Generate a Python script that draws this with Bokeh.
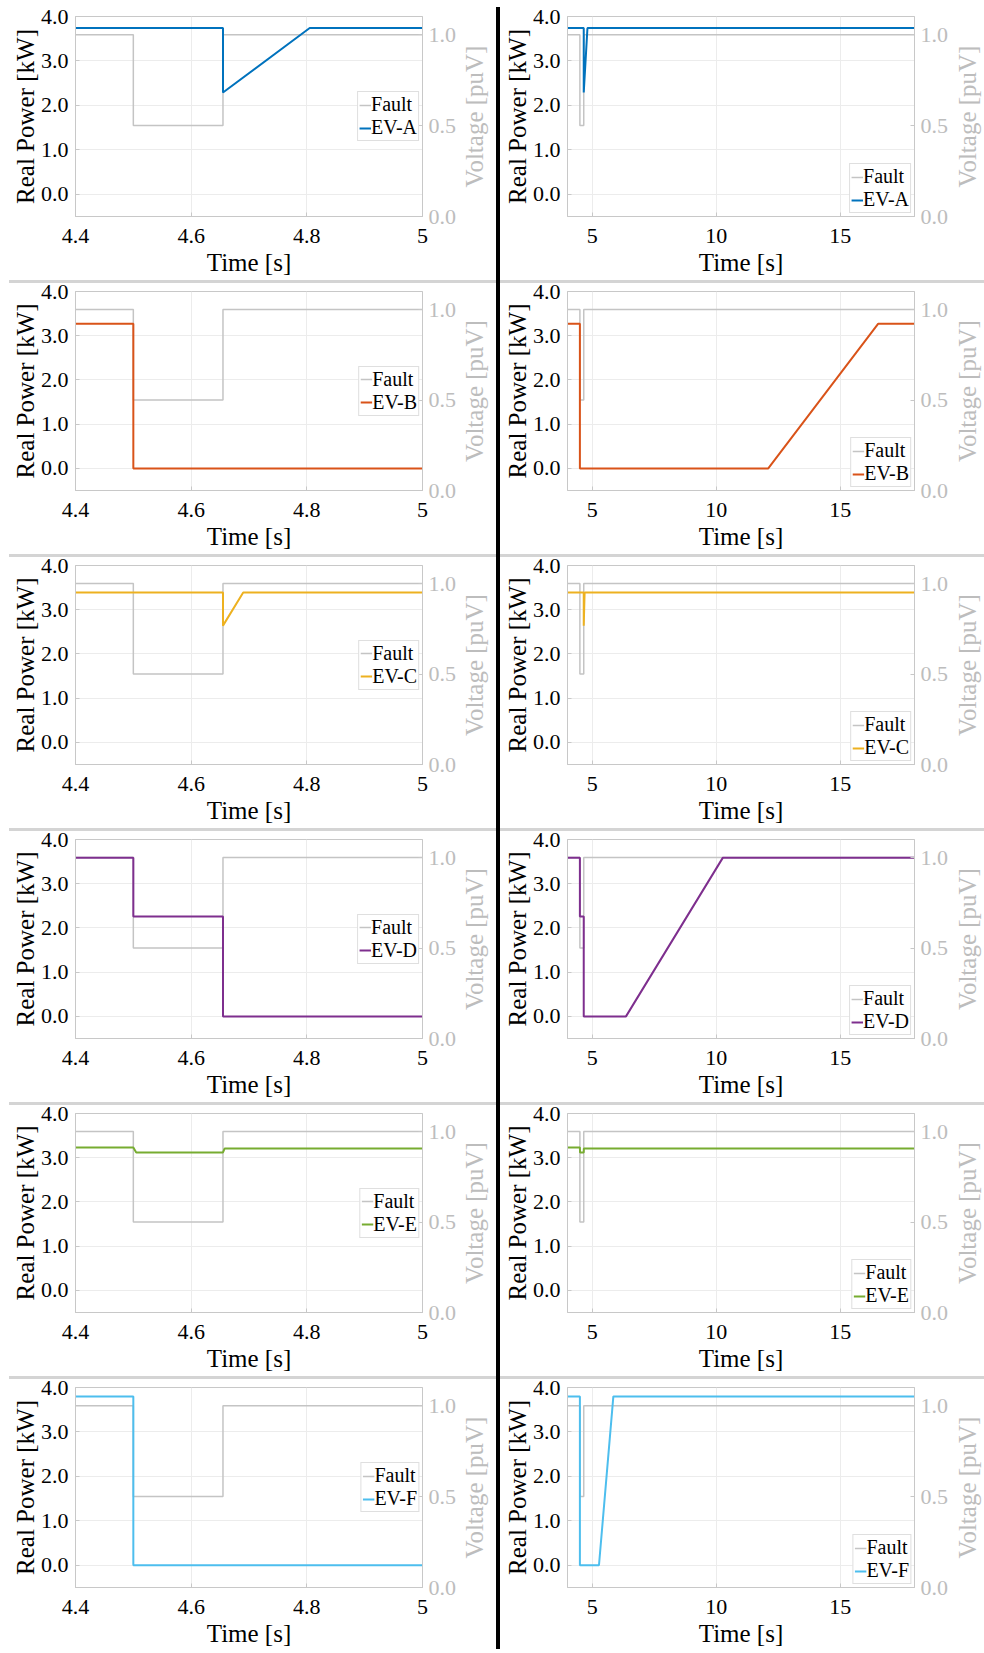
import math
from bokeh.plotting import figure
from bokeh.models import (Range1d, LinearAxis, FixedTicker, CustomJSTickFormatter,
                          Legend, LegendItem, Div)
from bokeh.layouts import row, column
from bokeh.embed import file_html
from bokeh.resources import INLINE

# ---------------- data ----------------
FAULT_T = [4.0, 4.5, 4.5, 4.655, 4.655, 18.0]
FAULT_V = [1.0, 1.0, 0.5, 0.5, 1.0, 1.0]

EV_NAMES = ["EV-A", "EV-B", "EV-C", "EV-D", "EV-E", "EV-F"]
EV_COLORS = ["#0072BD", "#D95319", "#EDB120", "#7E2F8E", "#77AC30", "#4DBEEE"]

EV_A_T = [4.0, 4.655, 4.655, 4.805, 18.0]
EV_A_P = [3.74, 3.74, 2.29, 3.74, 3.74]
EV_B_T = [4.0, 4.5, 4.5, 12.1, 16.53, 18.0]
EV_B_P = [3.27, 3.27, 0.0, 0.0, 3.27, 3.27]
EV_C_T = [4.0, 4.655, 4.655, 4.69, 18.0]
EV_C_P = [3.39, 3.39, 2.64, 3.39, 3.39]
EV_D_T = [4.0, 4.5, 4.5, 4.655, 4.655, 6.36, 10.27, 18.0]
EV_D_P = [3.59, 3.59, 2.26, 2.26, 0.0, 0.0, 3.59, 3.59]
EV_E_T = [4.0, 4.5, 4.505, 4.655, 4.658, 18.0]
EV_E_P = [3.23, 3.23, 3.12, 3.12, 3.21, 3.21]
EV_F_T = [4.0, 4.5, 4.5, 5.27, 5.85, 18.0]
EV_F_P = [3.80, 3.80, 0.0, 0.0, 3.80, 3.80]

EV_T = [EV_A_T, EV_B_T, EV_C_T, EV_D_T, EV_E_T, EV_F_T]
EV_P = [EV_A_P, EV_B_P, EV_C_P, EV_D_P, EV_E_P, EV_F_P]

ZOOM_X_RANGE = (4.4, 5.0)
FULL_X_RANGE = (4.0, 18.0)
ZOOM_X_TICKS = [4.4, 4.6, 4.8, 5.0]
ZOOM_X_LABELS = ["4.4", "4.6", "4.8", "5"]
FULL_X_TICKS = [5, 10, 15]
FULL_X_LABELS = ["5", "10", "15"]
P_RANGE = (-0.5, 4.0)
P_TICKS = [0, 1, 2, 3, 4]
P_LABELS = ["0.0", "1.0", "2.0", "3.0", "4.0"]
V_RANGE = (0.0, 1.1)
V_TICKS = [0.0, 0.5, 1.0]
V_LABELS = ["0.0", "0.5", "1.0"]

# ---------------- style ----------------
FONT = "Liberation Serif"
FAULT_COLOR = "#c4c4c4"
V_TEXT = "#bdbdbd"
BOX = "#c8c8c8"
GRID = "#ececec"
SEP = "#d4d4d4"
ROW_H = [278, 274, 274, 274, 274, 275]
TOP_B = [16, 13, 13, 13, 13, 13]
FRAME_W = 349
FRAME_H = 200
# widths: [main-left, vlabel-left, bar, main-right, vlabel-right] = 984
MAIN_L_W, LAB_L_W = 459, 37
BAR_W = 4
MAIN_R_W, LAB_R_W = 451, 33


def fmt(tick_vals, tick_labels):
    return CustomJSTickFormatter(
        args=dict(tv=tick_vals, tl=tick_labels),
        code="for (let i = 0; i < tv.length; i++) { if (Math.abs(tv[i] - tick) < 1e-9) return tl[i]; } return '';")


def style_axis(ax, color, label_color):
    ax.axis_label_text_font = FONT
    ax.axis_label_text_font_size = "25px"
    ax.axis_label_text_font_style = "normal"
    ax.axis_label_text_color = label_color
    ax.major_label_text_font = FONT
    ax.major_label_text_font_size = "22px"
    ax.major_label_text_color = color
    ax.axis_line_color = BOX
    ax.major_tick_line_color = BOX
    ax.major_tick_in = 4
    ax.major_tick_out = 0
    ax.minor_tick_line_color = None


def make_panel(t, pw, name, color, zoom, h, top):
    xr = ZOOM_X_RANGE if zoom else FULL_X_RANGE
    xt = ZOOM_X_TICKS if zoom else FULL_X_TICKS
    xl = ZOOM_X_LABELS if zoom else FULL_X_LABELS
    bl = 75 if zoom else 67
    w = MAIN_L_W if zoom else MAIN_R_W
    p = figure(width=w, height=h,
               x_range=Range1d(*xr), y_range=Range1d(*P_RANGE),
               output_backend="svg", toolbar_location=None,
               min_border_left=bl, min_border_right=w - bl - FRAME_W,
               min_border_top=top, min_border_bottom=h - top - FRAME_H)
    p.extra_y_ranges = {"v": Range1d(*V_RANGE)}
    p.background_fill_color = "white"
    p.border_fill_color = None
    p.outline_line_color = BOX
    p.outline_line_width = 1

    xa = p.xaxis[0]
    xa.ticker = FixedTicker(ticks=xt)
    xa.formatter = fmt(xt, xl)
    xa.axis_label = "Time [s]"
    style_axis(xa, "#000000", "#000000")
    xa.major_label_standoff = 12
    xa.axis_label_standoff = 3

    ya = p.yaxis[0]
    ya.ticker = FixedTicker(ticks=P_TICKS)
    ya.formatter = fmt(P_TICKS, P_LABELS)
    ya.axis_label = "Real Power [kW]"
    style_axis(ya, "#000000", "#000000")
    ya.major_label_standoff = 7
    ya.axis_label_standoff = -1

    va = LinearAxis(y_range_name="v", ticker=FixedTicker(ticks=V_TICKS),
                    formatter=fmt(V_TICKS, V_LABELS))
    style_axis(va, V_TEXT, V_TEXT)
    va.major_label_standoff = 6
    p.add_layout(va, "right")

    p.xgrid.ticker = FixedTicker(ticks=xt)
    p.ygrid.ticker = FixedTicker(ticks=P_TICKS)
    p.xgrid.grid_line_color = GRID
    p.ygrid.grid_line_color = GRID

    rf = p.line(FAULT_T, FAULT_V, y_range_name="v", line_color=FAULT_COLOR, line_width=1.5)
    re = p.line(t, pw, line_color=color, line_width=2)

    leg = Legend(items=[LegendItem(label="Fault", renderers=[rf]),
                        LegendItem(label=name, renderers=[re])],
                 location="center_right" if zoom else "bottom_right",
                 margin=3, padding=1, spacing=0, label_standoff=0,
                 glyph_width=12, glyph_height=20, label_height=20,
                 border_line_color="#bfbfbf", border_line_width=1,
                 background_fill_color="white", background_fill_alpha=1.0,
                 label_text_font=FONT, label_text_font_size="20px",
                 label_text_color="#000000")
    p.add_layout(leg)
    return p


def volt_label(w, h, top, standoff):
    # narrow companion figure that only carries the "Voltage [puV]" axis title
    bl = w - 2
    d = figure(width=w, height=h, x_range=Range1d(0, 1), y_range=Range1d(*V_RANGE),
               output_backend="svg", toolbar_location=None,
               min_border_left=bl, min_border_right=1,
               min_border_top=top, min_border_bottom=h - top - FRAME_H)
    d.outline_line_color = None
    d.background_fill_color = None
    d.border_fill_color = None
    d.xaxis.visible = False
    d.xgrid.visible = False
    d.ygrid.visible = False
    ax = d.yaxis[0]
    ax.ticker = FixedTicker(ticks=[])
    ax.axis_line_color = None
    ax.major_tick_line_color = None
    ax.minor_tick_line_color = None
    ax.major_label_text_font_size = "0px"
    ax.axis_label = "Voltage [puV]"
    ax.axis_label_text_font = FONT
    ax.axis_label_text_font_size = "25px"
    ax.axis_label_text_font_style = "normal"
    ax.axis_label_text_color = V_TEXT
    ax.axis_label_standoff = standoff
    d.line([0, 1], [0, 0], line_alpha=0)
    return d


def bar(w, h, c):
    return Div(text="", width=w, height=h, margin=0,
               styles={"background-color": c, "overflow": "hidden"})


stripe = {"background-image": f"linear-gradient({SEP}, {SEP})",
          "background-repeat": "no-repeat",
          "background-position": "9px 2px",
          "background-size": "975px 3px"}

items = []
for i in range(6):
    h = ROW_H[i]
    top = TOP_B[i]
    lf = make_panel(EV_T[i], EV_P[i], EV_NAMES[i], EV_COLORS[i], True, h, top)
    ll = volt_label(LAB_L_W, h, top, 8)
    rg = make_panel(EV_T[i], EV_P[i], EV_NAMES[i], EV_COLORS[i], False, h, top)
    rl = volt_label(LAB_R_W, h, top, 3)
    if i == 0:
        mid = column(bar(BAR_W, 7, "#ffffff"), bar(BAR_W, h - 7, "#000000"), spacing=0)
        items.append(row(lf, ll, mid, rg, rl, spacing=0))
    else:
        mid = bar(BAR_W, h, "#000000")
        items.append(row(lf, ll, mid, rg, rl, spacing=0, styles=stripe))

layout = column(*items, spacing=0)

open("out.html", "w").write(file_html(layout, INLINE))
